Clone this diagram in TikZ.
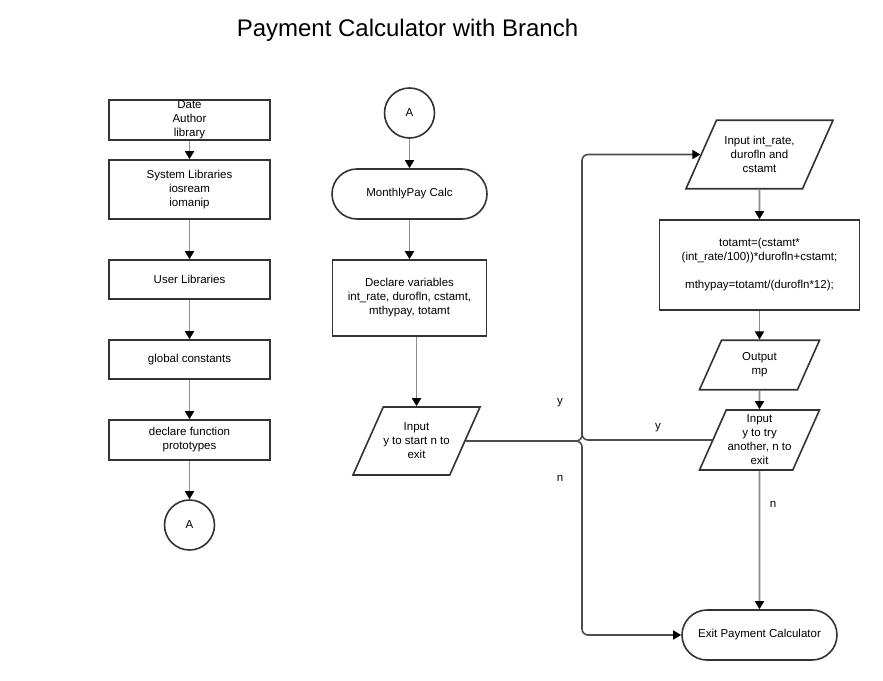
\documentclass[tikz,border=0pt]{standalone}
\usepackage{fontspec}
\setmainfont{Liberation Sans}
\usetikzlibrary{shapes.geometric,arrows.meta}

\begin{document}
\begin{tikzpicture}[x=1pt, y=-1pt,
    every node/.style={font=\fontsize{11.5}{14}\selectfont, align=center, inner sep=0pt},
    box/.style={draw=black!80, line width=1.6pt, rectangle, minimum width=161pt},
    terminal/.style={draw=black!80, line width=1.6pt, rectangle, rounded corners=25pt, minimum width=155pt, minimum height=50pt},
    io/.style={draw=black!80, line width=1.6pt, trapezium, trapezium stretches body, trapezium left angle=66, trapezium right angle=114, minimum width=120pt, inner ysep=#1},
    connector/.style={draw=black!80, line width=1.6pt, circle, minimum size=50pt},
    flow/.style={draw=black!45, line width=1.6pt, -{Triangle[width=9pt,length=8pt,color=black]}},
    branch/.style={flow, draw=black!70, rounded corners=6pt}]

    \useasboundingbox (0,0) rectangle (883,680);
    \node (title) at (407.5,30) {\fontsize{24}{28}\selectfont Payment Calculator with Branch};

    % left column
    \node[box, minimum height=40pt] (header) at (189.5,120) {Date\\Author\\library};
    \node[box, minimum height=59pt] (syslib) at (189.5,189.5) {System Libraries\\iosream\\iomanip};
    \node[box, minimum height=39pt] (userlib) at (189.5,279.5) {User Libraries};
    \node[box, minimum height=39pt] (globals) at (189.5,359.5) {global constants};
    \node[box, minimum height=40pt] (protos) at (189.5,440) {declare function\\prototypes};
    \node[connector] (gotoA) at (189.5,525) {A};

    \foreach \a/\b in {header/syslib, syslib/userlib, userlib/globals, globals/protos, protos/gotoA}
        {
            \draw[flow] (\a) -- (\b);
        }

    % middle column
    \node[connector] (fromA) at (409.5,113) {A};
    \node[terminal] (start) at (409.5,194) {MonthlyPay Calc};
    \node[box, minimum width=154pt, minimum height=76pt] (vars) at (409.5,298) {Declare variables\\int\_rate, durofln, cstamt,\\mthypay, totamt};
    \node[io=16pt, minimum width=122pt] (choice) at (416.5,441) {Input\\y to start n to\\exit};

    \foreach \a/\b in {fromA/start, start/vars}
        {
            \draw[flow] (\a) -- (\b);
        }
    \draw[flow] (vars.south -| choice.north) -- (choice.north);

    % right column
    \node[io=16pt, minimum width=147pt] (rates) at (759.5,154.5) {Input int\_rate,\\durofln and\\cstamt};
    \node[box, minimum width=200pt, minimum height=90pt] (calc) at (759.5,265) {totamt=(cstamt*\\(int\_rate/100))*durofln+cstamt;\\[14pt]mthypay=totamt/(durofln*12);};
    \node[io=12.5pt] (output) at (759.5,365) {Output\\mp};
    \node[io=5pt] (again) at (759.5,440) {Input\\y to try\\another, n to\\exit};
    \node[terminal] (exit) at (759.5,635) {Exit Payment Calculator};

    \foreach \a/\b in {rates/calc, calc/output, output/again, again/exit}
        {
            \draw[flow] (\a) -- (\b);
        }

    % the branch
    \coordinate (fork) at (582,440);
    \coordinate (merge) at (582,400);
    \draw[branch] (choice.east) -| (fork |- rates.west) -- (rates.west);
    \draw[branch] (choice.east) -| (fork |- exit.west) -- (exit.west);
    \draw[branch, -] (again.west) -| (merge);

    \node (yes) at (560,403) {y};
    \node (no) at (560,478) {n};
    \node (yesagain) at (658,428) {y};
    \node (noagain) at (773,504) {n};
\end{tikzpicture}
\end{document}
